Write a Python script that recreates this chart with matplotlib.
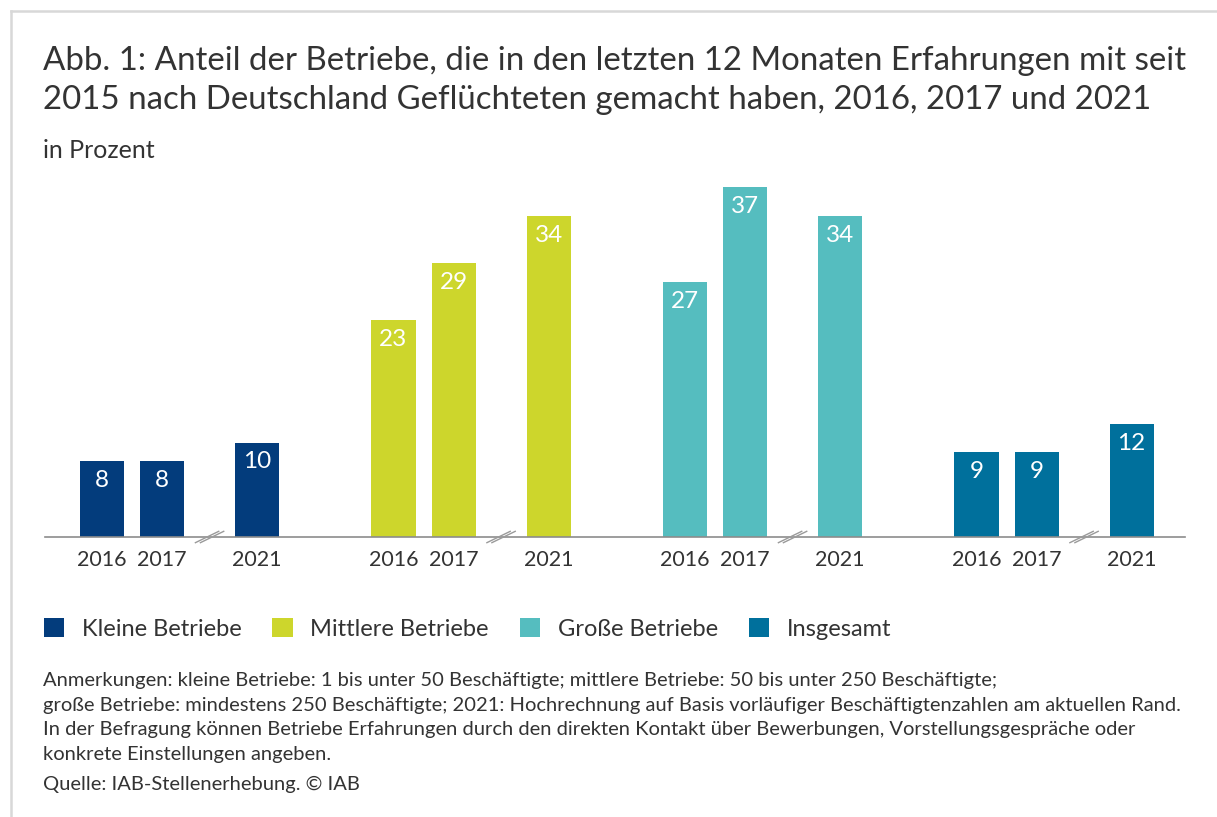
import matplotlib
matplotlib.use("Agg")
import matplotlib.pyplot as plt
from matplotlib.patches import Patch
from matplotlib.lines import Line2D
import matplotlib.transforms as mtransforms

plt.rcParams['font.family'] = ['Lato', 'DejaVu Sans']

# ---------------- data ----------------
groups = ["Kleine Betriebe", "Mittlere Betriebe", "Große Betriebe", "Insgesamt"]
years = ["2016", "2017", "2021"]
kleine = [8, 8, 10]
mittlere = [23, 29, 34]
grosse = [27, 37, 34]
insgesamt = [9, 9, 12]
series = [kleine, mittlere, grosse, insgesamt]
colors = ["#033c7c", "#cdd62c", "#55bdbf", "#00709c"]

title = ("Abb. 1: Anteil der Betriebe, die in den letzten 12 Monaten Erfahrungen mit seit\n"
         "2015 nach Deutschland Geflüchteten gemacht haben, 2016, 2017 und 2021")
subtitle = "in Prozent"
notes = [
    "Anmerkungen: kleine Betriebe: 1 bis unter 50 Beschäftigte; mittlere Betriebe: 50 bis unter 250 Beschäftigte;",
    "große Betriebe: mindestens 250 Beschäftigte; 2021: Hochrechnung auf Basis vorläufiger Beschäftigtenzahlen am aktuellen Rand.",
    "In der Befragung können Betriebe Erfahrungen durch den direkten Kontakt über Bewerbungen, Vorstellungsgespräche oder",
    "konkrete Einstellungen angeben.",
]
source = "Quelle: IAB-Stellenerhebung. © IAB"

# ---------------- layout ----------------
W, H = 1217, 817
fig = plt.figure(figsize=(W / 100, H / 100), dpi=100)
fig.patch.set_facecolor("white")

def fx(px):
    return px / W

def fy(py):
    return 1 - py / H

text_color = "#333333"

# frame lines (top and left)
fig.add_artist(Line2D([fx(11), 1], [fy(11), fy(11)], color="#d8d8d8", lw=1.8))
fig.add_artist(Line2D([fx(11), fx(11)], [fy(11), 0], color="#d8d8d8", lw=1.8))

# axes
ax_left, ax_right = 45, 1185
base_y, top_y = 537, 537 - 40 * 9.45
ax = fig.add_axes([fx(ax_left), fy(base_y), (ax_right - ax_left) / W, (base_y - top_y) / H])
ax.set_facecolor("none")

group_step = 1.0
offsets = [0.0, 0.206, 0.532]
bar_w = 0.151
first_px, step_px = 102, 291.5
ax.set_xlim((ax_left - first_px) / step_px, (ax_right - first_px) / step_px)
ax.set_ylim(0, 40)

xticks, xlabels = [], []
for g, (vals, col) in enumerate(zip(series, colors)):
    xs = [g * group_step + o for o in offsets]
    bars = ax.bar(xs, vals, width=bar_w, color=col, zorder=2)
    for b, v in zip(bars, vals):
        ax.annotate(str(v), (b.get_x() + b.get_width() / 2, v), xytext=(0, -14),
                    textcoords="offset points", ha="center", va="center",
                    color="white", fontsize=17.5, zorder=3)
    xticks += xs
    xlabels += years
    # axis break marks
    bx = g * group_step + (offsets[1] + offsets[2]) / 2
    for dx in (-2.5, 2.5):
        tr = mtransforms.offset_copy(ax.transData, fig=fig, x=dx, y=0, units="dots")
        ax.plot([bx - 0.04, bx + 0.04], [-0.6, 0.6], color="#9a9a9a", lw=1.0,
                transform=tr, clip_on=False, zorder=4)

for s in ["top", "right", "left"]:
    ax.spines[s].set_visible(False)
ax.spines["bottom"].set_color("#8c8c8c")
ax.spines["bottom"].set_linewidth(1.2)
ax.set_yticks([])
ax.set_xticks(xticks)
ax.set_xticklabels(xlabels, fontsize=15.5, color=text_color)
ax.tick_params(axis="x", length=0, pad=9)

# titles
fig.text(fx(43), fy(109), title, fontsize=23.8, color=text_color, ha="left",
         va="baseline", linespacing=1.37)
fig.text(fx(43), fy(158), subtitle, fontsize=18, color=text_color, ha="left", va="baseline")

# legend
handles = [Patch(facecolor=c, edgecolor="none") for c in colors]
fig.legend(handles, groups, loc="center left", bbox_to_anchor=(fx(44), fy(629)),
           ncol=4, frameon=False, fontsize=17, handlelength=0.85, handleheight=0.85,
           handletextpad=0.76, columnspacing=1.3, labelcolor=text_color,
           borderaxespad=0, borderpad=0)

# notes
for i, line in enumerate(notes):
    fig.text(fx(43), fy(686 + i * 24.7), line, fontsize=14.5, color=text_color,
             ha="left", va="baseline")
fig.text(fx(43), fy(790), source, fontsize=14.5, color=text_color, ha="left", va="baseline")

fig.savefig("out.png", dpi=100, facecolor="white")
